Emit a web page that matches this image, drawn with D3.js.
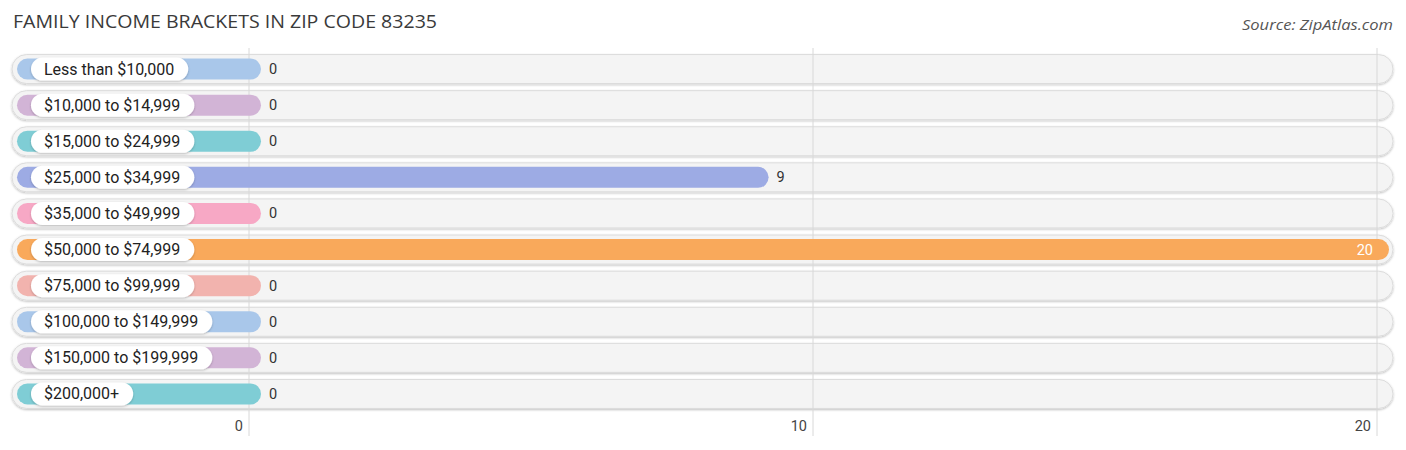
<!DOCTYPE html>
<html>
<head>
<meta charset="utf-8">
<script src="https://cdn.jsdelivr.net/npm/d3@7"></script>
<style>
  body { margin: 0; background: #fff; font-family: Roboto, "Open Sans", sans-serif; }
</style>
</head>
<body>
<svg class="mainSvg" width="1406" height="450"></svg>
<script>
// data
var categories = ["Less than $10,000", "$10,000 to $14,999", "$15,000 to $24,999", "$25,000 to $34,999",
  "$35,000 to $49,999", "$50,000 to $74,999", "$75,000 to $99,999", "$100,000 to $149,999",
  "$150,000 to $199,999", "$200,000+"];
var values = [0, 0, 0, 9, 0, 20, 0, 0, 0, 0];
var colors = ["#a9c7ea", "#d2b4d6", "#7fcdd5", "#9dabe4", "#f7a8c5", "#f9a95b", "#f2b3ae", "#a9c7ea", "#d2b4d6", "#7fcdd5"];
var ticks = [0, 10, 20];

var svg = d3.select(".mainSvg");

var defs = svg.append("defs");
var f = defs.append("filter").attr("id", "sh").attr("x", "-5%").attr("y", "-30%").attr("width", "110%").attr("height", "160%");
f.append("feDropShadow").attr("dx", 0).attr("dy", 1).attr("stdDeviation", 1.2).attr("flood-color", "#000").attr("flood-opacity", 0.25);

var x = d3.scaleLinear().domain([0, 20]).range([249, 1377]);
var y = d3.scaleBand().domain(categories).range([51, 412]).padding(0);

svg.append("text").attr("x", 13).attr("y", 28)
  .attr("font-size", 18.5).attr("fill", "#3a3a3a").attr("font-family", "'Open Sans', Roboto, sans-serif")
  .attr("textLength", 424).attr("lengthAdjust", "spacingAndGlyphs")
  .text("FAMILY INCOME BRACKETS IN ZIP CODE 83235");
svg.append("text").attr("x", 1393).attr("y", 30).attr("text-anchor", "end")
  .attr("font-size", 15).attr("font-style", "italic").attr("fill", "#555")
  .attr("font-family", "'Open Sans', Roboto, sans-serif")
  .attr("textLength", 151).attr("lengthAdjust", "spacingAndGlyphs")
  .text("Source: ZipAtlas.com");

// row backgrounds
svg.selectAll(".bg").data(categories).enter().append("rect")
  .attr("class", "bg")
  .attr("x", 12).attr("width", 1381)
  .attr("y", function(d) { return y(d) + y.bandwidth() / 2 - 14.5; })
  .attr("height", 29).attr("rx", 14.5)
  .attr("fill", "#f4f4f4").attr("stroke", "#dcdcdc").attr("stroke-width", 1)
  .attr("filter", "url(#sh)");

// grid
svg.selectAll(".grid").data(ticks).enter().append("line")
  .attr("x1", function(d) { return x(d); }).attr("x2", function(d) { return x(d); })
  .attr("y1", 48).attr("y2", 436)
  .attr("stroke", "#d8d8d8").attr("stroke-width", 1);

svg.selectAll(".tick").data(ticks).enter().append("text")
  .attr("x", function(d) { return x(d) - 6; }).attr("y", 431)
  .attr("text-anchor", "end").attr("font-size", 14.5).attr("fill", "#444")
  .text(function(d) { return d; });

// bars
svg.selectAll(".bar").data(values).enter().append("rect")
  .attr("x", 17)
  .attr("y", function(d, i) { return y(categories[i]) + y.bandwidth() / 2 - 10.5; })
  .attr("width", function(d) { return x(d) + 12 - 17; })
  .attr("height", 21).attr("rx", 10.5)
  .attr("fill", function(d, i) { return colors[i]; });

// label pills
var lab = svg.selectAll(".lab").data(categories).enter().append("g")
  .attr("transform", function(d) { return "translate(0," + (y(d) + y.bandwidth() / 2) + ")"; });
lab.append("text")
  .attr("class", "lt")
  .attr("x", 44).attr("y", 5.5)
  .attr("font-size", 16).attr("fill", "#222")
  .text(function(d) { return d; });
lab.each(function() {
  var g = d3.select(this);
  var w = g.select("text").node().getComputedTextLength();
  g.insert("rect", "text")
    .attr("x", 31).attr("y", -11.5).attr("width", w + 27).attr("height", 23).attr("rx", 11.5)
    .attr("fill", "#fff").attr("filter", "url(#sh)");
});

// value labels
svg.selectAll(".val").data(values).enter().append("text")
  .attr("x", function(d) { return d >= 18 ? x(d) - 4 : x(d) + 20; })
  .attr("y", function(d, i) { return y(categories[i]) + y.bandwidth() / 2 + 5; })
  .attr("text-anchor", function(d) { return d >= 18 ? "end" : "start"; })
  .attr("font-size", 14.5)
  .attr("fill", function(d) { return d >= 18 ? "#fff" : "#333"; })
  .text(function(d) { return d; });
</script>
</body>
</html>
